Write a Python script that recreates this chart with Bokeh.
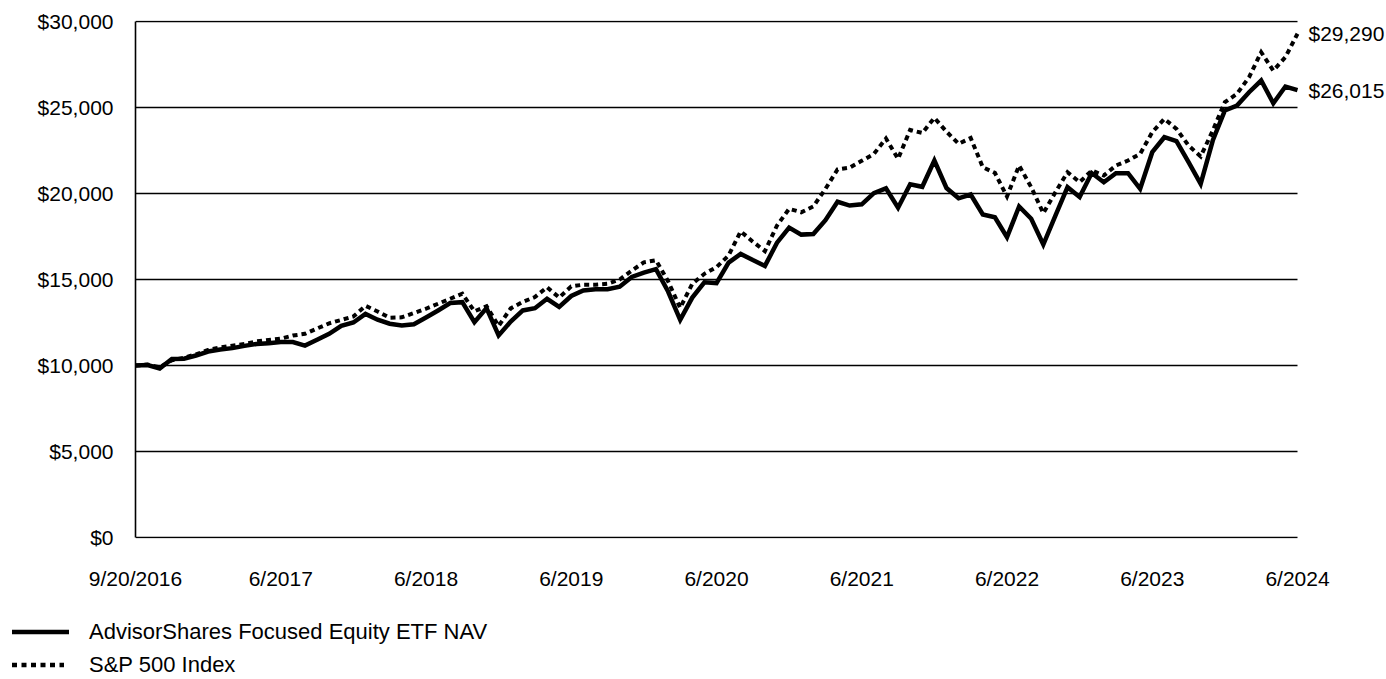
from bokeh.plotting import figure
from bokeh.models import FixedTicker, NumeralTickFormatter, Range1d, Div
from bokeh.layouts import column
from bokeh.core.properties import value
from bokeh.embed import file_html
from bokeh.resources import INLINE

# ---- data ----
tick_labels = ["9/20/2016", "6/2017", "6/2018", "6/2019", "6/2020",
               "6/2021", "6/2022", "6/2023", "6/2024"]
label_every = 12

series_names = ["AdvisorShares Focused Equity ETF NAV", "S&P 500 Index"]

fund_nav = [10000, 10030, 9830, 10380, 10390, 10580, 10810, 10930, 11010, 11140,
            11250, 11300, 11360, 11360, 11160, 11500, 11840, 12300, 12500, 13000,
            12660, 12430, 12330, 12400, 12790, 13200, 13630, 13680, 12520, 13340,
            11750, 12550, 13200, 13330, 13880, 13410, 14040, 14360, 14430, 14430,
            14580, 15150, 15400, 15600, 14300, 12650, 13950, 14840, 14790, 15980,
            16490, 16130, 15790, 17140, 18020, 17610, 17640, 18450, 19520, 19300,
            19370, 20020, 20300, 19170, 20540, 20390, 21920, 20320, 19720, 19940,
            18780, 18620, 17460, 19245, 18530, 17035, 18720, 20367, 19800, 21190,
            20658, 21182, 21182, 20273, 22402, 23273, 23041, 21820, 20564, 23081,
            24826, 25116, 25891, 26570, 25250, 26221, 26015]

sp500 = [10000, 10050, 9900, 10300, 10450, 10650, 10900, 11050, 11150, 11250,
         11400, 11480, 11560, 11740, 11840, 12150, 12450, 12650, 12850, 13470,
         13140, 12780, 12800, 13050, 13300, 13590, 13880, 14170, 13150, 13450,
         12300, 13320, 13700, 13980, 14550, 13950, 14600, 14700, 14700, 14750,
         15000, 15520, 16000, 16120, 14900, 13350, 14750, 15330, 15720, 16400,
         17800, 17200, 16650, 18140, 19110, 18910, 19250, 20270, 21400, 21500,
         21900, 22300, 23200, 22018, 23700, 23520, 24400, 23600, 22890, 23230,
         21530, 21200, 19826, 21628, 20367, 18855, 20076, 21240, 20658, 21337,
         21046, 21628, 21919, 22308, 23564, 24343, 23760, 22790, 22150, 23663,
         25310, 25795, 26762, 28217, 27150, 27926, 29290]

y_ticks = [0, 5000, 10000, 15000, 20000, 25000, 30000]

# ---- layout / style constants ----
FONT = "Liberation Sans"
FS = "21px"
LEG_FS = "22px"
PLOT_W = 1162          # width of the data area
EXTRA_W = 88           # room right of the data area for the end labels
PLOT_H = 516
PAD = 60               # small y padding so edge gridlines are not clipped
PAD_PX = PAD * PLOT_H / (y_ticks[-1] - y_ticks[0])
LEFT = 135
TOP = 20
BOTTOM = 62
FUND_LW, FUND_DASH = 4.5, None
SP_LW, SP_DASH = 4, "5 4"
LEG_SP_DASH = "5 4.5"

x = list(range(len(fund_nav)))
tick_pos = [i * label_every for i in range(len(tick_labels))]
x_end = x[-1] * (PLOT_W + EXTRA_W) / PLOT_W

p = figure(frame_width=PLOT_W + EXTRA_W, frame_height=int(round(PLOT_H + 2 * PAD_PX)),
           min_border_left=LEFT, min_border_right=0,
           min_border_top=TOP, min_border_bottom=BOTTOM,
           output_backend="svg", toolbar_location=None,
           x_range=Range1d(x[0], x_end),
           y_range=Range1d(y_ticks[0] - PAD, y_ticks[-1] + PAD))
p.outline_line_color = None
p.background_fill_color = "white"
p.xgrid.visible = False
p.ygrid.visible = False

# horizontal gridlines, limited to the data area
n = len(y_ticks)
p.segment(x0=[x[0]] * n, x1=[x[-1]] * n, y0=y_ticks, y1=y_ticks,
          line_color="black", line_width=1.6)

p.line(x, fund_nav, line_color="black", line_width=FUND_LW, line_join="miter")
p.line(x, sp500, line_color="black", line_width=SP_LW, line_dash=SP_DASH,
       line_join="miter")

# y axis
p.yaxis.ticker = FixedTicker(ticks=y_ticks)
p.yaxis.bounds = (y_ticks[0], y_ticks[-1])
p.yaxis.formatter = NumeralTickFormatter(format="$0,0")
p.yaxis.major_tick_line_color = None
p.yaxis.minor_tick_line_color = None
p.yaxis.axis_line_color = "black"
p.yaxis.axis_line_width = 1.6
p.yaxis.major_label_standoff = 16
p.yaxis.major_label_text_font = FONT
p.yaxis.major_label_text_font_size = FS
p.yaxis.major_label_text_color = "black"

# x axis
p.xaxis.ticker = FixedTicker(ticks=tick_pos)
p.xaxis.major_label_overrides = {pos: lab for pos, lab in zip(tick_pos, tick_labels)}
p.xaxis.major_tick_line_color = None
p.xaxis.minor_tick_line_color = None
p.xaxis.axis_line_color = None
p.xaxis.major_label_standoff = 22
p.xaxis.major_label_text_font = FONT
p.xaxis.major_label_text_font_size = FS
p.xaxis.major_label_text_color = "black"

# end value labels
ends = [sp500[-1], fund_nav[-1]]
p.text(x=[x[-1]] * len(ends), y=ends, text=[f"${v:,.0f}" for v in ends],
       x_offset=11, text_baseline="middle", text_align="left",
       text_font=value(FONT), text_font_size=FS, text_color="black")

# ---- legend (below the chart, left aligned) ----
LEG_H = 79
row_centers = [32, 65]
sample_w = [57, 52]
styles = [(FUND_LW, FUND_DASH), (SP_LW + 0.5, LEG_SP_DASH)]
rows = []
for name, c, w, (lw, dash) in zip(series_names, row_centers, sample_w, styles):
    dash_attr = f' stroke-dasharray="{dash}"' if dash else ""
    svg = (f'<svg width="{w}" height="12" style="display:block;flex:none">'
           f'<line x1="0" y1="6" x2="{w}" y2="6" stroke="black" '
           f'stroke-width="{lw}"{dash_attr}/></svg>')
    rows.append(
        f'<div style="position:absolute;left:12px;top:{c - 15}px;height:30px;'
        f'display:flex;align-items:center;">{svg}'
        f'<span style="margin-left:{89 - 12 - w}px;font-family:\'{FONT}\';'
        f'font-size:{LEG_FS};color:black;white-space:nowrap;line-height:1;">'
        f'{name.replace("&", "&amp;")}</span></div>')
legend_html = (f'<div style="position:relative;width:{LEFT + PLOT_W + EXTRA_W}px;'
               f'height:{LEG_H}px;margin:0;padding:0;">' + "".join(rows) + "</div>")
legend_div = Div(text=legend_html, width=LEFT + PLOT_W + EXTRA_W, height=LEG_H,
                 margin=0)

layout = column(p, legend_div, spacing=0)
open("out.html", "w").write(file_html(layout, INLINE))
